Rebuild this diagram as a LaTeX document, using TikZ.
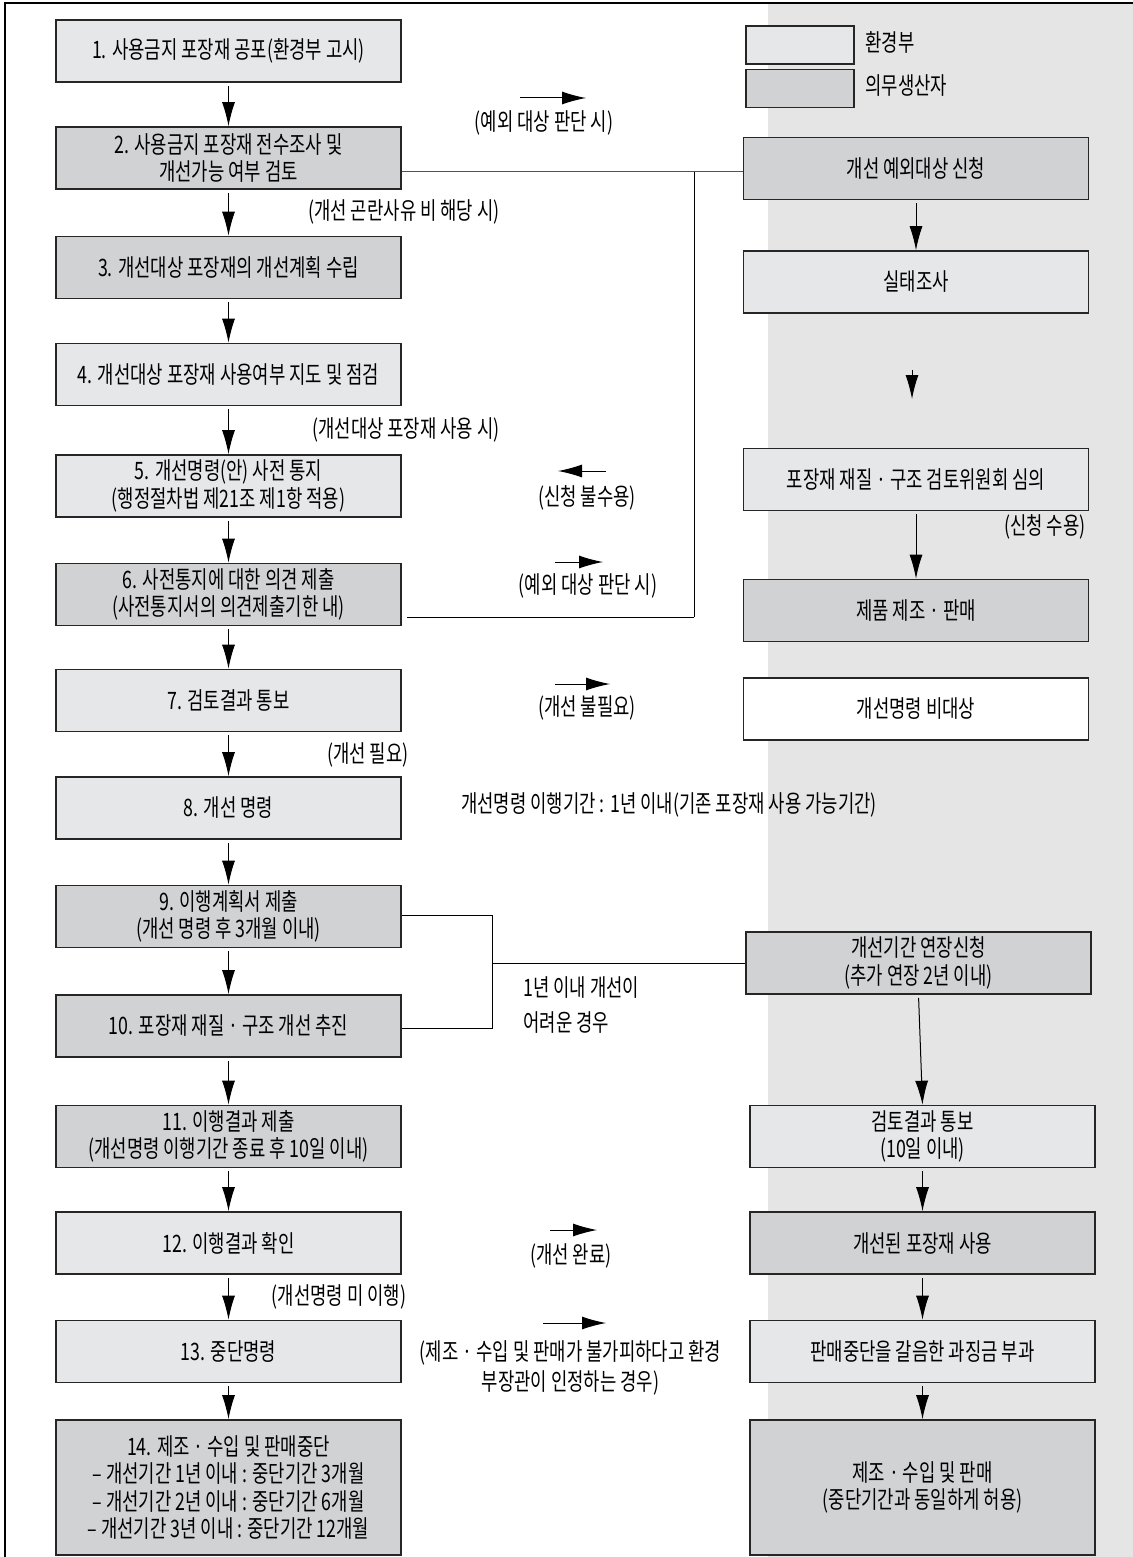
\documentclass[tikz,border=0pt]{standalone}
\usepackage{fontspec}
\setmainfont{Noto Sans CJK KR}[FakeStretch=0.74]
\usetikzlibrary{arrows.meta}

\newlength{\du}
\setlength{\du}{0.5pt}

\definecolor{envfill}{rgb}{0.902000, 0.906000, 0.910000}
\definecolor{makerfill}{rgb}{0.820000, 0.824000, 0.831000}
\definecolor{panelfill}{rgb}{0.898000, 0.898000, 0.898000}
\definecolor{dialinecolor}{rgb}{0.150000, 0.150000, 0.150000}

\tikzset{
  stepnode/.style={draw=dialinecolor, line width=0.8pt, minimum width=172.5pt, minimum height=31pt, inner sep=0pt, align=center},
  envbox/.style={stepnode, fill=envfill},
  makerbox/.style={stepnode, fill=makerfill},
  plainbox/.style={stepnode, fill=white},
  flowarrow/.style={line width=0.5pt, -{Latex[length=12pt,width=6.5pt]}},
  flowline/.style={line width=0.5pt},
  notetext/.style={inner sep=0pt, align=center}
}

\begin{document}
\begin{tikzpicture}[font=\fontsize{12pt}{13.7pt}\selectfont]
\pgftransformxscale{1.000000}
\pgftransformyscale{-1.000000}
\useasboundingbox (0.000000\du,0.000000\du) rectangle (1133.000000\du,1557.000000\du);
\fill[panelfill] (768.000000\du,3.000000\du) rectangle (1133.000000\du,1557.000000\du);
\draw[line width=0.75pt] (5.000000\du,1557.000000\du) -- (5.000000\du,3.000000\du) -- (1133.000000\du,3.000000\du);

\node[envbox] (b1) at (228.500000\du,51.000000\du) {1. 사용금지 포장재 공포(환경부 고시)};
\node[makerbox] (b2) at (228.500000\du,158.000000\du) {2. 사용금지 포장재 전수조사 및\\개선가능 여부 검토};
\node[makerbox] (b3) at (228.500000\du,267.500000\du) {3. 개선대상 포장재의 개선계획 수립};
\node[envbox] (b4) at (228.500000\du,374.500000\du) {4. 개선대상 포장재 사용여부 지도 및 점검};
\node[envbox] (b5) at (228.500000\du,486.000000\du) {5. 개선명령(안) 사전 통지\\(행정절차법 제21조 제1항 적용)};
\node[makerbox] (b6) at (228.500000\du,594.500000\du) {6. 사전통지에 대한 의견 제출\\(사전통지서의 의견제출기한 내)};
\node[envbox] (b7) at (228.500000\du,700.500000\du) {7. 검토결과 통보};
\node[envbox] (b8) at (228.500000\du,808.000000\du) {8. 개선 명령};
\node[makerbox] (b9) at (228.500000\du,916.500000\du) {9. 이행계획서 제출\\(개선 명령 후 3개월 이내)};
\node[makerbox] (b10) at (228.500000\du,1026.000000\du) {10. 포장재 재질 · 구조 개선 추진};
\node[makerbox] (b11) at (228.500000\du,1136.500000\du) {11. 이행결과 제출\\(개선명령 이행기간 종료 후 10일 이내)};
\node[envbox] (b12) at (228.500000\du,1243.000000\du) {12. 이행결과 확인};
\node[envbox] (b13) at (228.500000\du,1351.500000\du) {13. 중단명령};
\node[makerbox, minimum height=67.5pt] (b14) at (228.500000\du,1487.500000\du) {14. 제조 · 수입 및 판매중단\\– 개선기간 1년 이내 : 중단기간 3개월\\– 개선기간 2년 이내 : 중단기간 6개월\\– 개선기간 3년 이내 : 중단기간 12개월};

\node[envbox, minimum width=54pt, minimum height=19pt] (legenv) at (800.000000\du,45.000000\du) {};
\node[makerbox, minimum width=54pt, minimum height=19pt] (legmaker) at (800.000000\du,88.500000\du) {};
\node[notetext, anchor=west] (legenvtext) at (865.000000\du,42.000000\du) {환경부};
\node[notetext, anchor=west] (legmakertext) at (865.000000\du,86.000000\du) {의무생산자};

\node[makerbox] (rA) at (916.000000\du,168.500000\du) {개선 예외대상 신청};
\node[envbox] (rB) at (916.000000\du,282.000000\du) {실태조사};
\node[envbox] (rC) at (916.000000\du,479.500000\du) {포장재 재질 · 구조 검토위원회 심의};
\node[makerbox] (rD) at (916.000000\du,610.500000\du) {제품 제조 · 판매};
\node[plainbox] (rE) at (916.000000\du,709.000000\du) {개선명령 비대상};
\node[makerbox] (rF) at (918.500000\du,963.000000\du) {개선기간 연장신청\\(추가 연장 2년 이내)};
\node[envbox] (rG) at (922.500000\du,1136.500000\du) {검토결과 통보\\(10일 이내)};
\node[makerbox] (rH) at (922.500000\du,1243.000000\du) {개선된 포장재 사용};
\node[envbox] (rI) at (922.500000\du,1351.500000\du) {판매중단을 갈음한 과징금 부과};
\node[makerbox, minimum height=67.5pt] (rJ) at (922.500000\du,1487.500000\du) {제조 · 수입 및 판매\\(중단기간과 동일하게 허용)};

\draw[flowarrow, shorten <=1.5pt] (b1.south) -- (b2.north);
\draw[flowarrow, shorten <=1.5pt] (b2.south) -- (b3.north);
\draw[flowarrow, shorten <=1.5pt] (b3.south) -- (b4.north);
\draw[flowarrow, shorten <=1.5pt] (b4.south) -- (b5.north);
\draw[flowarrow, shorten <=1.5pt] (b5.south) -- (b6.north);
\draw[flowarrow, shorten <=1.5pt] (b6.south) -- (b7.north);
\draw[flowarrow, shorten <=1.5pt] (b7.south) -- (b8.north);
\draw[flowarrow, shorten <=1.5pt] (b8.south) -- (b9.north);
\draw[flowarrow, shorten <=1.5pt] (b9.south) -- (b10.north);
\draw[flowarrow, shorten <=1.5pt] (b10.south) -- (b11.north);
\draw[flowarrow, shorten <=1.5pt] (b11.south) -- (b12.north);
\draw[flowarrow, shorten <=1.5pt] (b12.south) -- (b13.north);
\draw[flowarrow, shorten <=1.5pt] (b13.south) -- (b14.north);

\draw[flowarrow, shorten <=1.5pt] (rA.south) -- (rB.north);
\coordinate (bctail) at (912.000000\du,370.000000\du);
\coordinate (bctip) at (912.000000\du,399.000000\du);
\draw[flowarrow] (bctail) -- (bctip);
\draw[flowarrow, shorten <=1.5pt] (rC.south) -- (rD.north);
\draw[flowarrow, shorten <=1.5pt] (rF.south) -- (rG.north);
\draw[flowarrow, shorten <=1.5pt] (rG.south) -- (rH.north);
\draw[flowarrow, shorten <=1.5pt] (rH.south) -- (rI.north);
\draw[flowarrow, shorten <=1.5pt] (rI.south) -- (rJ.north);
\node[notetext, anchor=east] (acceptnote) at (1086.000000\du,527.000000\du) {(신청 수용)};

\coordinate (exctop) at (694.000000\du,172.000000\du);
\coordinate (excbot) at (694.000000\du,617.000000\du);
\draw[flowline, draw=dialinecolor!80] (b2.east |- exctop) -- (rA.west |- exctop);
\draw[flowline] (exctop) -- (excbot);
\draw[flowline, shorten <=2.5pt] (b6.east |- excbot) -- (excbot);

\coordinate (ext9) at (492.000000\du,915.000000\du);
\coordinate (ext10) at (492.000000\du,1028.000000\du);
\coordinate (extmid) at (492.000000\du,963.000000\du);
\draw[flowline] (b9.east |- ext9) -- (ext9) -- (ext10) -- (b10.east |- ext10);
\draw[flowline] (extmid) -- (rF.west |- extmid);
\node[notetext, anchor=west] (extnote1) at (523.000000\du,988.000000\du) {1년 이내 개선이};
\node[notetext, anchor=west] (extnote2) at (523.000000\du,1023.000000\du) {어려운 경우};

\coordinate (ex1tail) at (520.000000\du,98.000000\du);
\coordinate (ex1tip) at (586.000000\du,98.000000\du);
\draw[flowarrow] (ex1tail) -- (ex1tip);
\node[notetext] (ex1note) at (544.000000\du,123.000000\du) {(예외 대상 판단 시)};

\node[notetext] (hardnote) at (404.000000\du,212.000000\du) {(개선 곤란사유 비 해당 시)};
\node[notetext] (usenote) at (406.000000\du,430.000000\du) {(개선대상 포장재 사용 시)};

\coordinate (rejtail) at (606.000000\du,471.000000\du);
\coordinate (rejtip) at (558.000000\du,471.000000\du);
\draw[flowarrow] (rejtail) -- (rejtip);
\node[notetext] (rejnote) at (587.000000\du,498.000000\du) {(신청 불수용)};

\coordinate (ex2tail) at (555.000000\du,562.000000\du);
\coordinate (ex2tip) at (603.000000\du,562.000000\du);
\draw[flowarrow] (ex2tail) -- (ex2tip);
\node[notetext] (ex2note) at (588.000000\du,586.000000\du) {(예외 대상 판단 시)};

\coordinate (nonetail) at (555.000000\du,684.000000\du);
\coordinate (nonetip) at (610.000000\du,684.000000\du);
\draw[flowarrow] (nonetail) -- (nonetip);
\node[notetext] (nonenote) at (587.000000\du,708.000000\du) {(개선 불필요)};

\node[notetext] (neednote) at (368.000000\du,755.000000\du) {(개선 필요)};
\node[notetext] (periodnote) at (669.000000\du,805.000000\du) {개선명령 이행기간 : 1년 이내(기존 포장재 사용 가능기간)};

\coordinate (donetail) at (550.000000\du,1230.000000\du);
\coordinate (donetip) at (597.000000\du,1230.000000\du);
\draw[flowarrow] (donetail) -- (donetip);
\node[notetext] (donenote) at (571.000000\du,1256.000000\du) {(개선 완료)};

\node[notetext] (failnote) at (339.000000\du,1297.000000\du) {(개선명령 미 이행)};

\coordinate (finetail) at (543.000000\du,1323.000000\du);
\coordinate (finetip) at (606.000000\du,1323.000000\du);
\draw[flowarrow] (finetail) -- (finetip);
\node[notetext, font=\fontsize{12pt}{15pt}\selectfont] (finenote) at (570.500000\du,1368.000000\du) {(제조 · 수입 및 판매가 불가피하다고 환경\\부장관이 인정하는 경우)};
\end{tikzpicture}
\end{document}
